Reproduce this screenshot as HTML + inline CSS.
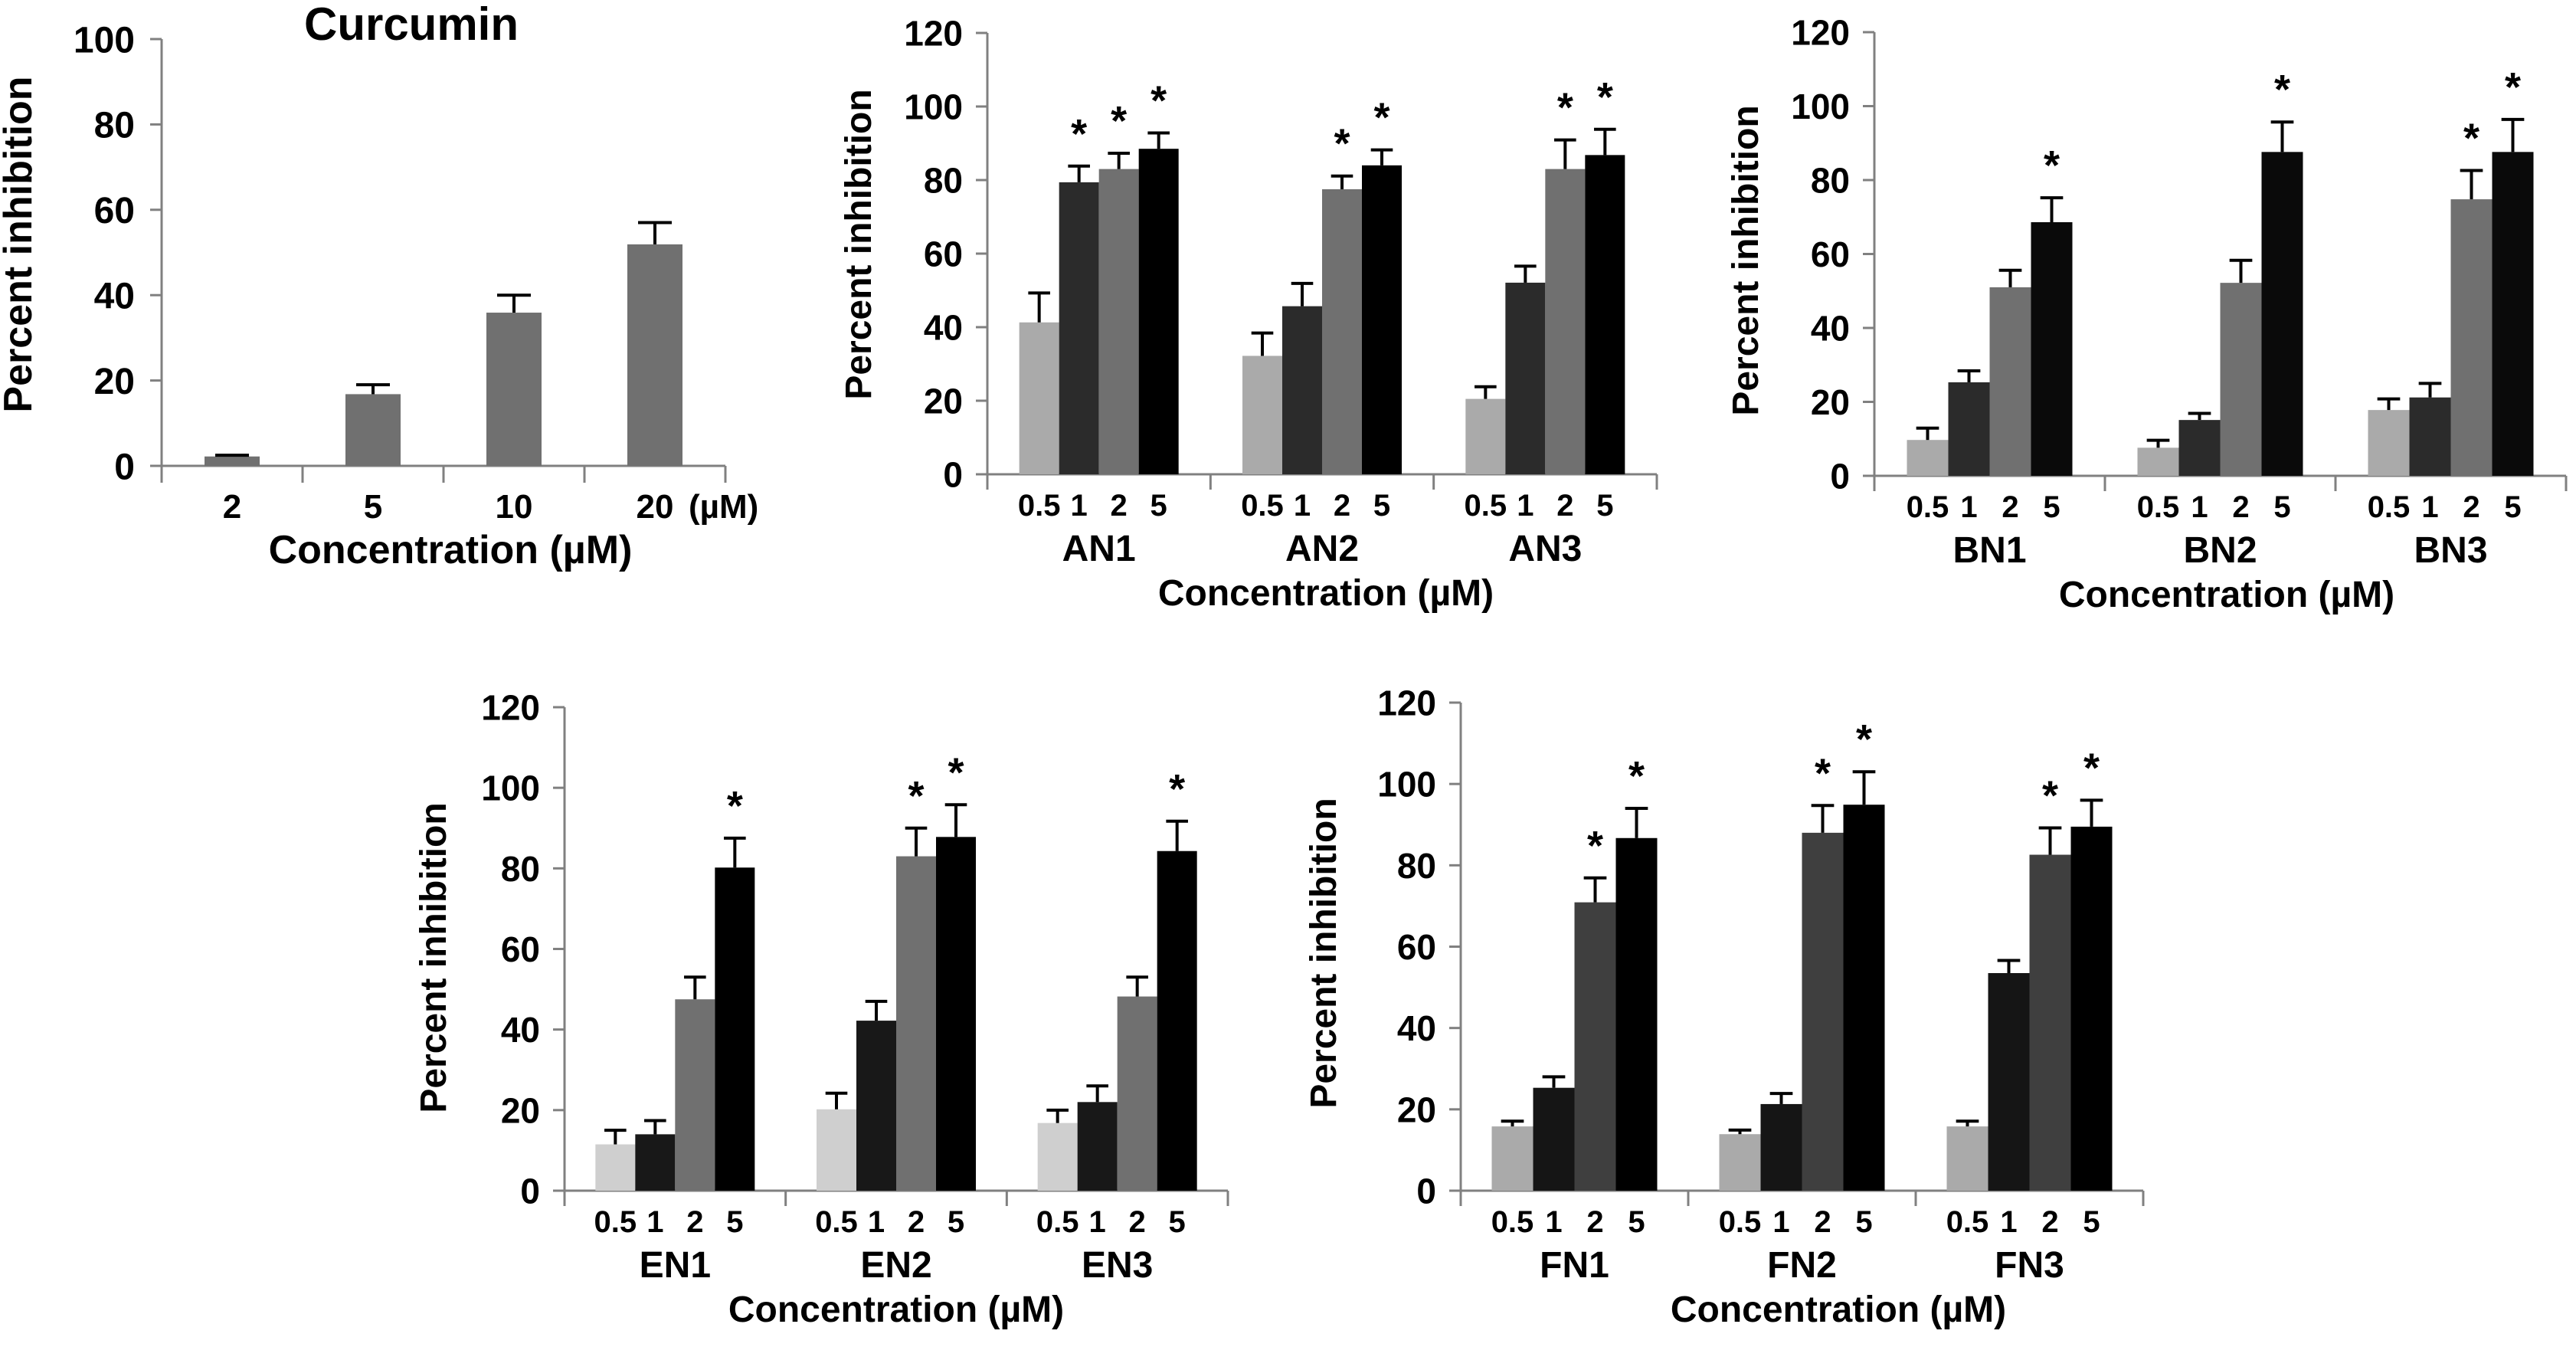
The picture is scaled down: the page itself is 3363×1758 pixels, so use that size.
<!DOCTYPE html>
<html><head><meta charset="utf-8">
<style>
html,body{margin:0;padding:0;background:#fff;}
svg{display:block;}
text{font-family:"Liberation Sans",Arial,sans-serif;font-weight:bold;fill:#000;}
</style></head>
<body>
<svg id="fig" width="3363" height="1758" viewBox="0 0 3363 1758" xmlns="http://www.w3.org/2000/svg"></svg>
<script>
// ---------- data ----------
const curcuminCategories = ["2", "5", "10", "20"];
const curcuminValues = [2.2, 16.8, 35.9, 51.9];
const curcuminErrors = [2.5, 19.0, 40.0, 57.0];
const curcuminTicks = [0, 20, 40, 60, 80, 100];

const concentrations = ["0.5", "1", "2", "5"];
const bigTicks = [0, 20, 40, 60, 80, 100, 120];

const anGroups = ["AN1", "AN2", "AN3"];
const anValues = [[41.3, 79.4, 83.0, 88.5], [32.2, 45.7, 77.5, 84.0], [20.5, 52.1, 83.0, 86.8]];
const anErrors = [[49.3, 83.8, 87.3, 92.8], [38.4, 51.9, 81.1, 88.2], [23.8, 56.6, 90.9, 93.8]];
const anStars = [[0, 1, 1, 1], [0, 0, 1, 1], [0, 0, 1, 1]];

const bnGroups = ["BN1", "BN2", "BN3"];
const bnValues = [[9.7, 25.3, 51.0, 68.6], [7.6, 15.1, 52.2, 87.6], [17.8, 21.2, 74.8, 87.6]];
const bnErrors = [[12.9, 28.4, 55.6, 75.2], [9.6, 16.9, 58.3, 95.7], [20.8, 25.0, 82.6, 96.4]];
const bnStars = [[0, 0, 0, 1], [0, 0, 0, 1], [0, 0, 1, 1]];

const enGroups = ["EN1", "EN2", "EN3"];
const enValues = [[11.5, 14.0, 47.5, 80.2], [20.2, 42.2, 83.0, 87.8], [16.8, 22.0, 48.2, 84.3]];
const enErrors = [[15.0, 17.4, 53.0, 87.5], [24.2, 47.0, 90.0, 95.8], [20.0, 26.0, 53.0, 91.7]];
const enStars = [[0, 0, 0, 1], [0, 0, 1, 1], [0, 0, 0, 1]];

const fnGroups = ["FN1", "FN2", "FN3"];
const fnValues = [[15.8, 25.3, 70.9, 86.7], [13.9, 21.3, 88.0, 94.9], [15.8, 53.5, 82.6, 89.5]];
const fnErrors = [[17.1, 28.0, 76.9, 94.0], [14.9, 23.9, 94.7, 103.0], [17.1, 56.6, 89.2, 96.0]];
const fnStars = [[0, 0, 1, 1], [0, 0, 1, 1], [0, 0, 1, 1]];

// ---------- helpers ----------
const NS = "http://www.w3.org/2000/svg";
const svg = document.getElementById("fig");
function mk(tag, attrs, parent) {
  const e = document.createElementNS(NS, tag);
  for (const k in attrs) e.setAttribute(k, attrs[k]);
  (parent || svg).appendChild(e);
  return e;
}
function txt(str, x, y, size, anchor, parent) {
  const t = mk("text", {x: x, y: y, "font-size": size, "text-anchor": anchor || "middle"}, parent);
  t.textContent = str;
  return t;
}
const AXIS = "#808080";

function drawAxesY(g, ax, y0, yTop, maxV, ticks, labelRight, fs) {
  const sy = v => y0 - (v / maxV) * (y0 - yTop);
  const yl = mk("line", {x1: ax, y1: y0, x2: ax, y2: yTop, stroke: AXIS, "stroke-width": 3}, g);
  
  
  ticks.forEach(v => {
    const tk = mk("line", {x1: ax - 15, y1: sy(v), x2: ax, y2: sy(v), stroke: AXIS, "stroke-width": 3}, g);
    
    
    const tl = txt(String(v), labelRight, sy(v) + fs * 0.36, fs, "end", g);
    
    
  });
  return sy;
}
function yTitle(g, cx, cy, fs) {
  const t = txt("Percent inhibition", 0, 0, fs || 48, "middle", g);
  t.setAttribute("transform", "translate(" + (cx + 17) + "," + cy + ") rotate(-90)");
  
  
}
function errBar(g, cx, yTopBar, yErr, capW) {
  const l = mk("line", {x1: cx, y1: yTopBar, x2: cx, y2: yErr, stroke: "#000", "stroke-width": 4}, g);
  
  
  const c = mk("line", {x1: cx - capW / 2, y1: yErr, x2: cx + capW / 2, y2: yErr, stroke: "#000", "stroke-width": 4}, g);
  
  
}

// ---------- grouped panel ----------
function groupedPanel(cfg) {
  const g = mk("g", {});
  
  
  const sy = drawAxesY(g, cfg.ax, cfg.y0, cfg.yTop, 120, bigTicks, cfg.ax - 32, 46);
  const xl = mk("line", {x1: cfg.ax, y1: cfg.y0, x2: cfg.xEnd, y2: cfg.y0, stroke: AXIS, "stroke-width": 3}, g);
  
  
  const n = cfg.groups.length;
  const gw = (cfg.xEnd - cfg.ax) / n;
  const bw = cfg.bw;
  for (let i = 0; i <= n; i++) {
    const gx = cfg.ax + i * gw;
    const tk = mk("line", {x1: gx, y1: cfg.y0, x2: gx, y2: cfg.y0 + 20, stroke: AXIS, "stroke-width": 3}, g);
    
    
  }
  cfg.groups.forEach((gn, i) => {
    const gx = cfg.ax + i * gw;
    const start = gx + (gw - bw * concentrations.length) / 2;
    concentrations.forEach((c, j) => {
      const v = cfg.values[i][j], e = cfg.errors[i][j];
      const bx = start + j * bw;
      const r = mk("rect", {x: bx, y: sy(v), width: bw, height: cfg.y0 - sy(v), fill: cfg.colors[j]}, g);
      
      
      const cx = bx + bw / 2;
      errBar(g, cx, sy(v), sy(e), bw * 0.55);
      if (cfg.stars[i][j]) {
        const s = txt("*", cx, sy(e) - 24, 54, "middle", g);
        
        
      }
      const tl = txt(c, cx, cfg.y0 + 54, 40, "middle", g);
      
      
    });
    const gl = txt(gn, gx + gw / 2, cfg.y0 + 113, 48, "middle", g);
    
    
  });
  const xt = txt("Concentration (\u00b5M)", cfg.titleX, cfg.y0 + 171, 48, "middle", g);
  
  
  yTitle(g, cfg.yTitleX, cfg.yTitleY);
}

// ---------- curcumin panel ----------
(function () {
  const g = mk("g", {});
  
  
  const ax = 211, y0 = 608, yTop = 51, xEnd = 947;
  const sy = drawAxesY(g, ax, y0, yTop, 100, curcuminTicks, 176, 48);
  const xl = mk("line", {x1: ax, y1: y0, x2: xEnd, y2: y0, stroke: AXIS, "stroke-width": 3}, g);
  
  
  const n = curcuminCategories.length, cw = (xEnd - ax) / n, bw = 72;
  for (let i = 0; i <= n; i++) {
    const tk = mk("line", {x1: ax + i * cw, y1: y0, x2: ax + i * cw, y2: y0 + 22, stroke: AXIS, "stroke-width": 3}, g);
    
    
  }
  curcuminCategories.forEach((c, i) => {
    const cx = ax + (i + 0.5) * cw, v = curcuminValues[i], e = curcuminErrors[i];
    const r = mk("rect", {x: cx - bw / 2, y: sy(v), width: bw, height: y0 - sy(v), fill: "#707070"}, g);
    
    
    errBar(g, cx, sy(v), sy(e), 44);
    const tl = txt(c, cx, 676, 44, "middle", g);
    
    
  });
  const u = txt("(\u00b5M)", 899, 676, 44, "start", g);
  
  
  const t = txt("Curcumin", 537, 52, 60, "middle", g);
  
  
  const xt = txt("Concentration (\u00b5M)", 588, 735, 52, "middle", g);
  
  
  yTitle(g, 24, 319, 52);
})();

groupedPanel({name: "an-panel", ax: 1289, y0: 619, yTop: 43, xEnd: 2163, bw: 52,
  groups: anGroups, values: anValues, errors: anErrors, stars: anStars,
  colors: ["#aaaaaa", "#2b2b2b", "#707070", "#000000"], titleX: 1731, yTitleX: 1120, yTitleY: 319});
groupedPanel({name: "bn-panel", ax: 2447, y0: 621, yTop: 42, xEnd: 3350, bw: 54,
  groups: bnGroups, values: bnValues, errors: bnErrors, stars: bnStars,
  colors: ["#aaaaaa", "#2b2b2b", "#707070", "#0a0a0a"], titleX: 2907, yTitleX: 2278, yTitleY: 340});
groupedPanel({name: "en-panel", ax: 737, y0: 1554, yTop: 923, xEnd: 1603, bw: 52,
  groups: enGroups, values: enValues, errors: enErrors, stars: enStars,
  colors: ["#cfcfcf", "#181818", "#707070", "#000000"], titleX: 1170, yTitleX: 565, yTitleY: 1250});
groupedPanel({name: "fn-panel", ax: 1907, y0: 1554, yTop: 917, xEnd: 2798, bw: 54,
  groups: fnGroups, values: fnValues, errors: fnErrors, stars: fnStars,
  colors: ["#aaaaaa", "#151515", "#3f3f3f", "#000000"], titleX: 2400, yTitleX: 1727, yTitleY: 1244});
</script>
</body></html>
